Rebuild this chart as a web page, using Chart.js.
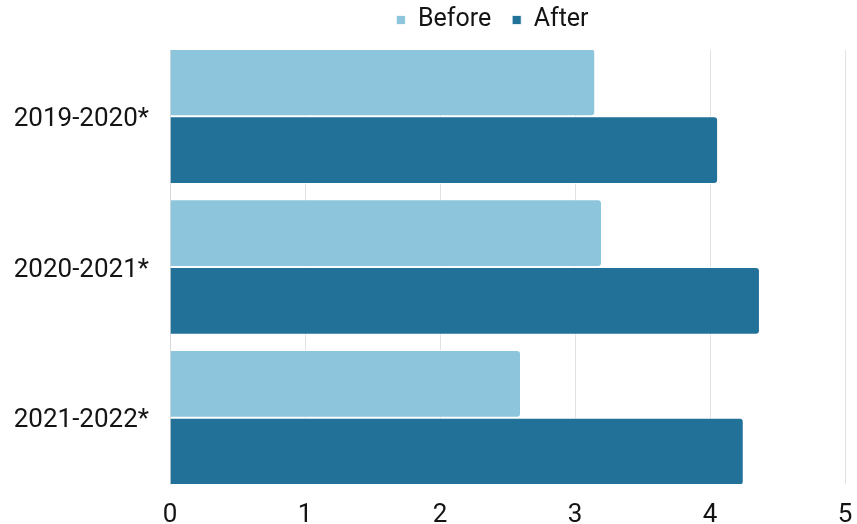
<!DOCTYPE html>
<html>
<head>
<meta charset="utf-8">
<script src="https://cdn.jsdelivr.net/npm/chart.js@4"></script>
<style>
  html, body { margin: 0; padding: 0; background: #ffffff; }
  #wrap { width: 857px; height: 524px; position: relative; }
</style>
</head>
<body>
<div id="wrap"><canvas id="chart"></canvas></div>
<script>
// School years compared, with scores before and after
const categories = ['2019-2020*', '2020-2021*', '2021-2022*'];
const beforeValues = [3.15, 3.2, 2.6];
const afterValues = [4.06, 4.37, 4.25];
const xTicks = [0, 1, 2, 3, 4, 5];

const FONT = 'Roboto, "Noto Sans", sans-serif';
const TEXT = '#141414';

// Legend: fixed box height so the plot starts just below it,
// and drawn a little left of the plot's centre line
const legendPlacement = {
  id: 'legendPlacement',
  beforeInit(chart) {
    const lg = chart.legend;
    if (!lg) return;
    const fit = lg.fit;
    lg.fit = function () { fit.call(this); this.height = 63.5; };
    const draw = lg.draw;
    lg.draw = function () {
      const l = this.left, r = this.right;
      this.left = l - 15; this.right = r - 15;
      draw.call(this);
      this.left = l; this.right = r;
    };
  }
};

new Chart(document.getElementById('chart'), {
  type: 'bar',
  data: {
    datasets: [
      {
        label: 'Before',
        data: beforeValues.map((v, i) => ({ x: v, y: i })),
        backgroundColor: '#8DC6DC',
        borderColor: 'rgba(255,255,255,0.75)',
        borderWidth: 1,
        borderRadius: 4,
        categoryPercentage: 0.9,
        barPercentage: 1
      },
      {
        label: 'After',
        data: afterValues.map((v, i) => ({ x: v, y: i })),
        backgroundColor: '#227198',
        borderColor: 'rgba(255,255,255,0.75)',
        borderWidth: 1,
        borderRadius: 4,
        categoryPercentage: 0.9,
        barPercentage: 1
      }
    ]
  },
  options: {
    indexAxis: 'y',
    responsive: true,
    maintainAspectRatio: false,
    animation: false,
    layout: { padding: { left: 0, right: 3, top: -13.5, bottom: 0 } },
    plugins: {
      legend: {
        position: 'top',
        align: 'center',
        fullSize: false,
        labels: {
          usePointStyle: true,
          pointStyle: 'rect',
          boxWidth: 9,
          boxHeight: 9,
          padding: 21,
          color: TEXT,
          font: { family: FONT, size: 25 }
        }
      },
      tooltip: { enabled: false }
    },
    scales: {
      x: {
        type: 'linear',
        min: 0,
        max: 5,
        afterBuildTicks(scale) { scale.ticks = xTicks.map(v => ({ value: v })); },
        afterFit(scale) { scale.height = 40; scale.paddingRight = 12; },
        grid: { color: '#e2e2e2', lineWidth: 1, drawTicks: false },
        border: { display: false },
        ticks: {
          padding: 16,
          color: TEXT,
          font: { family: FONT, size: 26 }
        }
      },
      y: {
        type: 'linear',
        reverse: true,
        offset: false,
        min: -0.44,
        max: 2.44,
        afterBuildTicks(scale) { scale.ticks = categories.map((c, i) => ({ value: i })); },
        afterFit(scale) { scale.width = 170; },
        grid: { display: false, drawTicks: false, offset: false },
        border: { display: true, color: '#d8d8d8', width: 1 },
        ticks: {
          padding: 21,
          labelOffset: 3,
          color: TEXT,
          font: { family: FONT, size: 26 },
          callback: (v) => categories[v] !== undefined ? categories[v] : ''
        }
      }
    }
  },
  plugins: [legendPlacement]
});
</script>
</body>
</html>
